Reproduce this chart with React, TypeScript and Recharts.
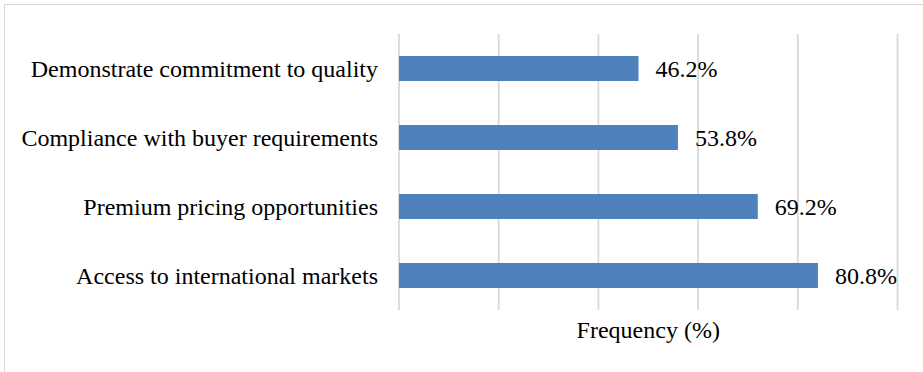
import {
  BarChart,
  Bar,
  XAxis,
  YAxis,
  CartesianGrid,
  LabelList,
  Label,
} from "recharts";

// categories top to bottom
const categories = [
  "Demonstrate commitment to quality",
  "Compliance with buyer requirements",
  "Premium pricing opportunities",
  "Access to international markets",
];

const frequency = [46.2, 53.8, 69.2, 80.8];

// gridlines fall on every 5 of 26 respondents
const gridTicks = [0, 19.23, 38.46, 57.69, 76.92, 96.15];

const chartData = categories.map((name, i) => ({
  name,
  value: frequency[i],
}));

const FONT = "'Liberation Serif', 'Times New Roman', serif";

const NoTick = () => <g />;

function ValueLabel(props: any) {
  const { x, y, width, height, value } = props;
  return (
    <text
      x={Number(x) + Number(width) + 17}
      y={Number(y) + Number(height) / 2}
      dy="0.35em"
      textAnchor="start"
      fontFamily={FONT}
      fontSize={24}
      fill="#000"
    >
      {`${Number(value).toFixed(1)}%`}
    </text>
  );
}

export default function App() {
  return (
    <div
      style={{
        position: "absolute",
        left: 0,
        top: 0,
        width: 923,
        height: 372,
        overflow: "hidden",
        background: "#fff",
      }}
    >
      <div
        style={{
          position: "absolute",
          left: 4,
          top: 4,
          width: 960,
          height: 420,
          border: "1.5px solid #d9d9d9",
        }}
      />
      <div style={{ position: "absolute", left: 0, top: 0 }}>
        <BarChart
          layout="vertical"
          width={923}
          height={372}
          data={chartData}
          margin={{ top: 34, right: 25.5, bottom: 22, left: 0 }}
        >
          <CartesianGrid
            horizontal={false}
            stroke="#d9d9d9"
            strokeWidth={1.75}
          />
          <XAxis
            type="number"
            domain={[0, 96.15]}
            ticks={gridTicks}
            interval={0}
            tick={NoTick}
            axisLine={false}
            tickLine={false}
            height={40}
          >
            <Label
              value="Frequency (%)"
              position="insideBottom"
              offset={12}
              fontFamily={FONT}
              fontSize={24}
              fill="#000"
            />
          </XAxis>
          <YAxis
            type="category"
            dataKey="name"
            width={399}
            axisLine={false}
            tickLine={false}
            tickSize={0}
            tickMargin={21}
            tick={{ fontFamily: FONT, fontSize: 24, fill: "#000" }}
          />
          <Bar
            dataKey="value"
            fill="#4f81bd"
            barSize={25}
            isAnimationActive={false}
          >
            <LabelList dataKey="value" content={ValueLabel} />
          </Bar>
        </BarChart>
      </div>
    </div>
  );
}
